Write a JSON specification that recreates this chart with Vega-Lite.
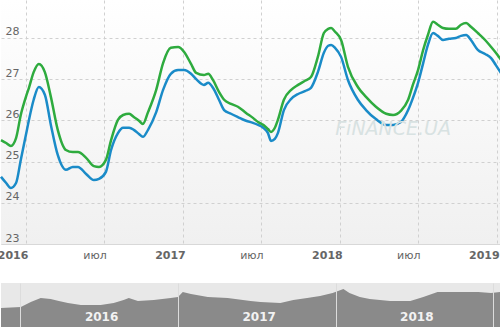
{
  "$schema": "https://vega.github.io/schema/vega-lite/v6.json",
  "padding": {"left": -4, "top": 0, "right": 0, "bottom": 0},
  "background": "white",
  "spacing": 23,
  "config": {"view": {"stroke": null}, "font": "DejaVu Sans"},
  "resolve": {"scale": {"x": "independent", "y": "independent"}},
  "vconcat": [
    {
      "width": 500,
      "height": 244,
      "view": {"fill": {"gradient": "linear", "x1": 0, "y1": 0, "x2": 0, "y2": 1, "stops": [{"offset": 0, "color": "#ffffff"}, {"offset": 1, "color": "#f0f0f0"}]}},
      "data": {"name": "main"},
      "layer": [
        {
          "mark": {"type": "line", "color": "#1a8bc8", "strokeWidth": 2.5, "interpolate": "monotone"},
          "encoding": {
            "x": {"field": "date", "type": "temporal",
              "scale": {"type": "utc", "domain": [{"year": 2015, "month": 11, "date": 4, "utc": true}, {"year": 2019, "month": 1, "date": 10, "utc": true}]},
              "axis": {
                "title": null,
                "values": [{"year": 2016, "month": 1, "date": 1, "utc": true}, {"year": 2016, "month": 7, "date": 1, "utc": true}, {"year": 2017, "month": 1, "date": 1, "utc": true}, {"year": 2017, "month": 7, "date": 1, "utc": true}, {"year": 2018, "month": 1, "date": 1, "utc": true}, {"year": 2018, "month": 7, "date": 1, "utc": true}, {"year": 2019, "month": 1, "date": 1, "utc": true}],
                "labelExpr": "utcmonth(datum.value) == 0 ? utcFormat(datum.value, '%Y') : 'июл'",
                "labelFontWeight": {"condition": {"test": "utcmonth(datum.value) == 0", "value": "bold"}, "value": "normal"},
                "labelAlign": "right", "labelOffset": 2, "labelPadding": 5, "labelFontSize": 11, "labelColor": "#666666",
                "labelFlush": false, "labelOverlap": false, "labelBound": false,
                "ticks": false, "tickSize": 0, "domainColor": "#d8d8d8",
                "grid": true, "gridDash": [3, 3], "gridColor": "#d0d0d0"
              }
            },
            "y": {"field": "blue", "type": "quantitative",
              "scale": {"domain": [23, 28.92], "nice": false, "zero": false},
              "axis": {
                "title": null, "values": [23, 24, 25, 26, 27, 28],
                "labelAlign": "left", "labelPadding": -4, "labelBaseline": "alphabetic", "labelOffset": -3,
                "labelFontSize": 11, "labelColor": "#666666", "ticks": false, "tickSize": 0, "domain": false,
                "grid": true, "gridDash": [3, 3], "gridColor": "#d0d0d0"
              }
            }
          }
        },
        {
          "mark": {"type": "line", "color": "#2eab3e", "strokeWidth": 2.5, "interpolate": "monotone"},
          "encoding": {
            "x": {"field": "date", "type": "temporal"},
            "y": {"field": "green", "type": "quantitative"}
          }
        },
        {
          "data": {"values": [{"date": "2018-05-04", "value": 25.78, "t": "FiNANCE.UA"}]},
          "mark": {"type": "text", "fontStyle": "italic", "fontSize": 19, "color": "#d8e2e2", "baseline": "middle", "align": "center"},
          "encoding": {
            "x": {"field": "date", "type": "temporal"},
            "y": {"field": "value", "type": "quantitative"},
            "text": {"field": "t"}
          }
        }
      ]
    },
    {
      "width": 500,
      "height": 44,
      "view": {"fill": "#e8e8e8", "stroke": null},
      "layer": [
        {
          "data": {"name": "nav"},
          "mark": {"type": "area", "color": "#8a8a8a", "interpolate": "linear"},
          "encoding": {
            "x": {"field": "date", "type": "temporal",
              "scale": {"type": "utc", "domain": [{"year": 2015, "month": 11, "date": 18, "utc": true}, {"year": 2019, "month": 1, "date": 19, "utc": true}]},
              "axis": {
                "title": null, "labels": false, "ticks": false, "domain": false, "zindex": 1,
                "values": [{"year": 2016, "month": 1, "date": 1, "utc": true}, {"year": 2017, "month": 1, "date": 1, "utc": true}, {"year": 2018, "month": 1, "date": 1, "utc": true}, {"year": 2019, "month": 1, "date": 1, "utc": true}],
                "grid": true, "gridColor": "#dcdcdc", "gridWidth": 1
              }
            },
            "y": {"field": "v", "type": "quantitative", "scale": {"domain": [19, 29], "nice": false, "zero": false}, "axis": null}
          }
        },
        {
          "data": {"values": [{"date": "2016-07-08", "v": 21.3, "t": "2016"}, {"date": "2017-07-08", "v": 21.3, "t": "2017"}, {"date": "2018-07-08", "v": 21.3, "t": "2018"}]},
          "mark": {"type": "text", "color": "#f2f2f2", "fontWeight": "bold", "fontSize": 12, "baseline": "middle", "align": "center"},
          "encoding": {
            "x": {"field": "date", "type": "temporal"},
            "y": {"field": "v", "type": "quantitative"},
            "text": {"field": "t"}
          }
        }
      ]
    }
  ],
  "datasets": {
    "main": [
      {"date": "2015-11-04", "blue": 24.63, "green": 25.52},
      {"date": "2015-11-16", "blue": 24.48, "green": 25.45},
      {"date": "2015-11-27", "blue": 24.36, "green": 25.38},
      {"date": "2015-12-09", "blue": 24.48, "green": 25.57},
      {"date": "2015-12-20", "blue": 25.04, "green": 26.13},
      {"date": "2016-01-01", "blue": 25.65, "green": 26.57},
      {"date": "2016-01-08", "blue": 26.01, "green": 26.79},
      {"date": "2016-01-19", "blue": 26.50, "green": 27.17},
      {"date": "2016-01-31", "blue": 26.81, "green": 27.37},
      {"date": "2016-02-14", "blue": 26.62, "green": 27.17},
      {"date": "2016-02-28", "blue": 25.89, "green": 26.57},
      {"date": "2016-03-15", "blue": 25.16, "green": 25.77},
      {"date": "2016-04-03", "blue": 24.80, "green": 25.28},
      {"date": "2016-04-19", "blue": 24.87, "green": 25.23},
      {"date": "2016-05-01", "blue": 24.87, "green": 25.23},
      {"date": "2016-05-20", "blue": 24.70, "green": 25.09},
      {"date": "2016-06-07", "blue": 24.55, "green": 24.89},
      {"date": "2016-06-19", "blue": 24.58, "green": 24.87},
      {"date": "2016-07-05", "blue": 24.75, "green": 25.04},
      {"date": "2016-07-17", "blue": 25.28, "green": 25.52},
      {"date": "2016-08-02", "blue": 25.69, "green": 26.01},
      {"date": "2016-08-14", "blue": 25.82, "green": 26.13},
      {"date": "2016-08-28", "blue": 25.82, "green": 26.16},
      {"date": "2016-09-08", "blue": 25.77, "green": 26.08},
      {"date": "2016-09-20", "blue": 25.67, "green": 25.99},
      {"date": "2016-09-29", "blue": 25.60, "green": 25.91},
      {"date": "2016-10-11", "blue": 25.77, "green": 26.20},
      {"date": "2016-10-30", "blue": 26.20, "green": 26.74},
      {"date": "2016-11-15", "blue": 26.74, "green": 27.39},
      {"date": "2016-12-03", "blue": 27.13, "green": 27.76},
      {"date": "2016-12-20", "blue": 27.22, "green": 27.78},
      {"date": "2017-01-03", "blue": 27.22, "green": 27.66},
      {"date": "2017-01-19", "blue": 27.13, "green": 27.37},
      {"date": "2017-01-31", "blue": 27.00, "green": 27.15},
      {"date": "2017-02-18", "blue": 26.86, "green": 27.10},
      {"date": "2017-02-28", "blue": 26.91, "green": 27.13},
      {"date": "2017-03-11", "blue": 26.79, "green": 26.98},
      {"date": "2017-03-25", "blue": 26.50, "green": 26.69},
      {"date": "2017-04-06", "blue": 26.25, "green": 26.50},
      {"date": "2017-04-22", "blue": 26.16, "green": 26.40},
      {"date": "2017-05-08", "blue": 26.08, "green": 26.33},
      {"date": "2017-05-27", "blue": 25.99, "green": 26.18},
      {"date": "2017-06-12", "blue": 25.94, "green": 26.06},
      {"date": "2017-06-24", "blue": 25.89, "green": 25.96},
      {"date": "2017-07-06", "blue": 25.82, "green": 25.89},
      {"date": "2017-07-17", "blue": 25.69, "green": 25.79},
      {"date": "2017-07-24", "blue": 25.50, "green": 25.72},
      {"date": "2017-08-02", "blue": 25.55, "green": 25.82},
      {"date": "2017-08-09", "blue": 25.69, "green": 26.01},
      {"date": "2017-08-23", "blue": 26.25, "green": 26.50},
      {"date": "2017-09-09", "blue": 26.52, "green": 26.74},
      {"date": "2017-09-25", "blue": 26.64, "green": 26.86},
      {"date": "2017-10-11", "blue": 26.71, "green": 26.96},
      {"date": "2017-10-25", "blue": 26.79, "green": 27.05},
      {"date": "2017-11-10", "blue": 27.17, "green": 27.54},
      {"date": "2017-11-24", "blue": 27.64, "green": 28.12},
      {"date": "2017-12-04", "blue": 27.81, "green": 28.22},
      {"date": "2017-12-11", "blue": 27.83, "green": 28.24},
      {"date": "2017-12-20", "blue": 27.76, "green": 28.15},
      {"date": "2018-01-03", "blue": 27.54, "green": 27.95},
      {"date": "2018-01-19", "blue": 26.98, "green": 27.30},
      {"date": "2018-02-11", "blue": 26.50, "green": 26.81},
      {"date": "2018-03-02", "blue": 26.25, "green": 26.57},
      {"date": "2018-03-25", "blue": 26.03, "green": 26.33},
      {"date": "2018-04-18", "blue": 25.89, "green": 26.16},
      {"date": "2018-05-04", "blue": 25.89, "green": 26.13},
      {"date": "2018-05-22", "blue": 25.96, "green": 26.23},
      {"date": "2018-06-08", "blue": 26.25, "green": 26.50},
      {"date": "2018-06-19", "blue": 26.54, "green": 26.86},
      {"date": "2018-07-01", "blue": 26.91, "green": 27.22},
      {"date": "2018-07-13", "blue": 27.39, "green": 27.71},
      {"date": "2018-07-24", "blue": 27.83, "green": 28.07},
      {"date": "2018-08-05", "blue": 28.12, "green": 28.39},
      {"date": "2018-08-16", "blue": 28.05, "green": 28.32},
      {"date": "2018-08-28", "blue": 27.95, "green": 28.24},
      {"date": "2018-09-11", "blue": 27.98, "green": 28.22},
      {"date": "2018-09-27", "blue": 28.00, "green": 28.22},
      {"date": "2018-10-09", "blue": 28.05, "green": 28.32},
      {"date": "2018-10-21", "blue": 28.07, "green": 28.36},
      {"date": "2018-11-01", "blue": 27.95, "green": 28.27},
      {"date": "2018-11-17", "blue": 27.71, "green": 28.12},
      {"date": "2018-12-04", "blue": 27.61, "green": 27.95},
      {"date": "2018-12-18", "blue": 27.51, "green": 27.78},
      {"date": "2018-12-29", "blue": 27.34, "green": 27.64},
      {"date": "2019-01-10", "blue": 27.15, "green": 27.47}
    ],
    "nav": [
      {"date": "2015-11-18", "v": 23.32},
      {"date": "2016-01-03", "v": 23.55},
      {"date": "2016-01-26", "v": 24.68},
      {"date": "2016-02-18", "v": 25.59},
      {"date": "2016-03-12", "v": 25.36},
      {"date": "2016-03-31", "v": 24.91},
      {"date": "2016-04-21", "v": 24.45},
      {"date": "2016-05-21", "v": 24.00},
      {"date": "2016-07-06", "v": 24.00},
      {"date": "2016-08-05", "v": 24.45},
      {"date": "2016-08-28", "v": 25.14},
      {"date": "2016-09-09", "v": 25.59},
      {"date": "2016-09-30", "v": 24.91},
      {"date": "2016-11-06", "v": 25.14},
      {"date": "2016-12-15", "v": 25.59},
      {"date": "2017-01-01", "v": 25.82},
      {"date": "2017-01-12", "v": 26.95},
      {"date": "2017-01-31", "v": 26.50},
      {"date": "2017-03-11", "v": 25.82},
      {"date": "2017-04-26", "v": 25.59},
      {"date": "2017-06-18", "v": 24.91},
      {"date": "2017-07-11", "v": 24.68},
      {"date": "2017-08-26", "v": 24.45},
      {"date": "2017-09-25", "v": 25.14},
      {"date": "2017-10-27", "v": 25.59},
      {"date": "2017-11-26", "v": 26.05},
      {"date": "2017-12-25", "v": 26.73},
      {"date": "2018-01-19", "v": 27.64},
      {"date": "2018-02-02", "v": 26.73},
      {"date": "2018-02-26", "v": 25.82},
      {"date": "2018-03-21", "v": 25.36},
      {"date": "2018-05-07", "v": 24.91},
      {"date": "2018-06-23", "v": 24.91},
      {"date": "2018-07-23", "v": 25.82},
      {"date": "2018-08-25", "v": 26.95},
      {"date": "2018-10-11", "v": 26.95},
      {"date": "2018-11-27", "v": 26.95},
      {"date": "2018-12-27", "v": 26.73},
      {"date": "2019-01-19", "v": 26.95}
    ]
  }
}
